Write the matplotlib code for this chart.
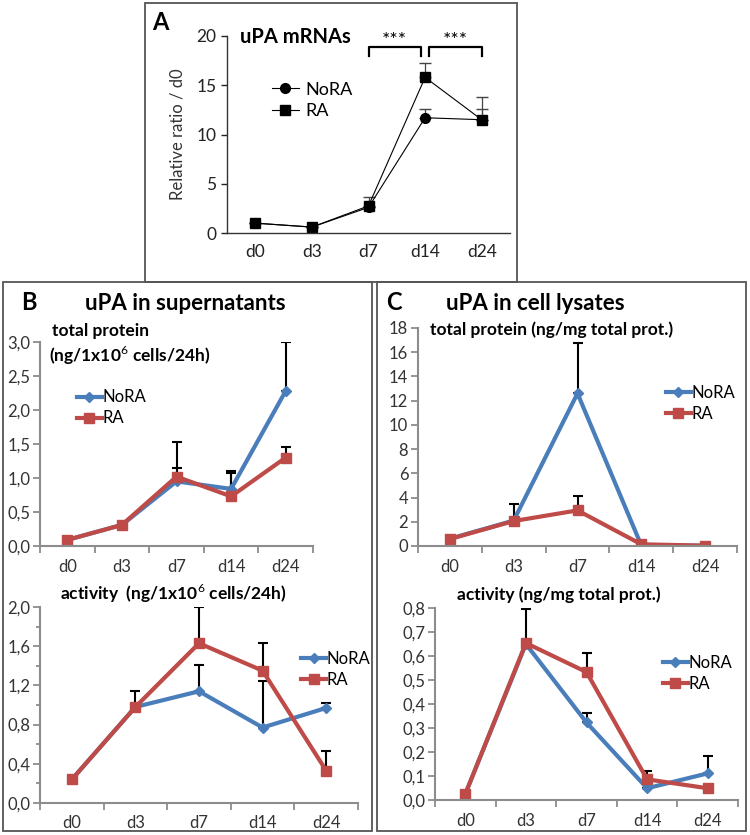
import numpy as np
import matplotlib
matplotlib.use("Agg")
from matplotlib import pyplot as plt
from matplotlib.patches import Rectangle
from matplotlib.ticker import MultipleLocator, FixedLocator, NullFormatter

plt.rcParams['font.family'] = ['Lato', 'DejaVu Sans']
plt.rcParams['mathtext.fontset'] = 'custom'
plt.rcParams['mathtext.rm'] = 'Lato'
plt.rcParams['mathtext.bf'] = 'Lato:bold'

days = ['d0', 'd3', 'd7', 'd14', 'd24']

# A: uPA mRNA, relative ratio / d0
mrna_nora = [1.0, 0.6, 2.6, 11.7, 11.5]
mrna_ra = [1.0, 0.6, 2.75, 15.8, 11.5]
mrna_nora_err = [0, 0, 0, 0.9, 1.1]
mrna_ra_err = [0, 0, 0.95, 1.5, 2.3]

# B: supernatants
sup_total_nora = [0.09, 0.31, 0.95, 0.84, 2.28]
sup_total_ra = [0.09, 0.31, 1.02, 0.73, 1.30]
sup_total_nora_err = [0, 0, 0.20, 0.23, 0.72]
sup_total_ra_err = [0, 0, 0.51, 0.37, 0.15]

sup_act_nora = [0.24, 0.98, 1.14, 0.77, 0.97]
sup_act_ra = [0.24, 0.98, 1.63, 1.35, 0.33]
sup_act_nora_err = [0, 0, 0.27, 0.47, 0.05]
sup_act_ra_err = [0, 0.16, 0.37, 0.28, 0.20]

# C: cell lysates
lys_total_nora = [0.6, 2.1, 12.6, 0.05, 0.02]
lys_total_ra = [0.58, 2.06, 2.94, 0.14, 0.03]
lys_total_nora_err = [0, 0, 4.2, 0, 0]
lys_total_ra_err = [0, 1.44, 1.2, 0, 0]

lys_act_nora = [0.025, 0.65, 0.323, 0.049, 0.111]
lys_act_ra = [0.025, 0.654, 0.533, 0.086, 0.049]
lys_act_nora_err = [0, 0, 0.04, 0, 0.073]
lys_act_ra_err = [0, 0.14, 0.08, 0.036, 0]

W, H = 750, 835
BLUE = '#4a7ebb'
RED = '#be4b48'
AXC = '#8c8c8c'

fig = plt.figure(figsize=(W / 100, H / 100), dpi=100)


def rect(l, t, r, b):
    return [l / W, 1 - b / H, (r - l) / W, (b - t) / H]


def ftext(x, y, s, **kw):
    fig.text(x / W, 1 - y / H, s, **kw)


# panel frames
for l, t, r, b in [(145, 3, 517, 282), (3, 282, 372, 831), (377, 282, 746, 831)]:
    fig.add_artist(Rectangle((l / W, 1 - b / H), (r - l) / W, (b - t) / H,
                             transform=fig.transFigure, fill=False,
                             ec='#555555', lw=1.3))

# ---- panel A ----
x = np.arange(len(days))
ax = fig.add_axes(rect(227, 36, 510, 233))
ax.errorbar(x, mrna_nora, yerr=[np.zeros(5), mrna_nora_err], fmt='none',
            ecolor='#444444', elinewidth=0.9, capsize=4)
ax.errorbar(x, mrna_ra, yerr=[np.zeros(5), mrna_ra_err], fmt='none',
            ecolor='#444444', elinewidth=0.9, capsize=4)
ax.plot(x, mrna_nora, '-o', color='black', lw=0.8, ms=7, label='NoRA')
ax.plot(x, mrna_ra, '-s', color='black', lw=0.8, ms=7.5, label='RA')
ax.set_xlim(-0.5, 4.5)
ax.set_ylim(0, 20)
ax.set_yticks([0, 5, 10, 15, 20])
ax.set_xticks(x)
ax.set_xticklabels(days)
ax.tick_params(axis='x', length=0, pad=8, labelsize=12.5, colors='#222222')
ax.tick_params(axis='y', length=4, width=1, labelsize=12.5, colors='#222222')
for s in ['top', 'right']:
    ax.spines[s].set_visible(False)
for s in ['left', 'bottom']:
    ax.spines[s].set_color('#333333')
    ax.spines[s].set_linewidth(1)
ax.set_ylabel('Relative ratio / d0', fontsize=12, color='#333333', labelpad=8)
ax.legend(loc='upper left', bbox_to_anchor=(0.1, 0.85), frameon=False,
          fontsize=13, handlelength=1.5, handletextpad=0.4, labelspacing=0.3)
# significance brackets
for x0, x1 in [(2.0, 2.93), (3.07, 4.0)]:
    ax.plot([x0, x0, x1, x1], [18.0, 18.9, 18.9, 18.0], color='black', lw=1.6,
            clip_on=False)
    ax.text((x0 + x1) / 2, 19.5, '***', ha='center', va='center', fontsize=14)
ftext(160, 23, 'A', fontsize=17, fontweight='bold', ha='center', va='center')
ftext(240, 37, 'uPA mRNAs', fontsize=14.5, fontweight='bold', ha='left', va='center')


# ---- excel style panels ----
def excel_panel(box, nora, ra, nora_err, ra_err, ylim, step, minor=None,
                fmt='{:.1f}', leg=None):
    ax = fig.add_axes(rect(*box))
    ax.errorbar(x, nora, yerr=[np.zeros(5), nora_err], fmt='none',
                ecolor='black', elinewidth=1.5, capsize=3.5, capthick=1.5)
    ax.errorbar(x, ra, yerr=[np.zeros(5), ra_err], fmt='none',
                ecolor='black', elinewidth=1.5, capsize=3.5, capthick=1.5)
    ax.plot(x, nora, '-D', color=BLUE, lw=3, ms=5.5, label='NoRA')
    ax.plot(x, ra, '-s', color=RED, lw=3, ms=7.5, label='RA')
    ax.set_xlim(-0.5, 4.5)
    ax.set_ylim(*ylim)
    ax.xaxis.set_major_locator(FixedLocator(np.arange(-0.5, 5, 1)))
    ax.xaxis.set_major_formatter(NullFormatter())
    ax.xaxis.set_minor_locator(FixedLocator(x))
    ax.set_xticklabels(days, minor=True)
    ax.tick_params(axis='x', which='major', length=5, width=1.3, color=AXC,
                   direction='out')
    ax.tick_params(axis='x', which='minor', length=0, pad=9, labelsize=12,
                   labelcolor='#333333')
    yt = np.arange(ylim[0], ylim[1] + step / 2, step)
    ax.set_yticks(yt)
    ax.set_yticklabels([fmt.format(v).replace('.', ',') for v in yt])
    if minor:
        ax.yaxis.set_minor_locator(MultipleLocator(minor))
        ax.tick_params(axis='y', which='minor', length=3, width=1.3, color=AXC)
    ax.tick_params(axis='y', which='major', length=5, width=1.3, color=AXC,
                   labelsize=12, labelcolor='#333333', pad=2)
    for s in ['top', 'right']:
        ax.spines[s].set_visible(False)
    for s in ['left', 'bottom']:
        ax.spines[s].set_color(AXC)
        ax.spines[s].set_linewidth(1.5)
    ax.legend(loc='upper left', bbox_to_anchor=leg, frameon=False,
              fontsize=12, handlelength=1.5, handletextpad=0.05,
              labelspacing=0.3, borderaxespad=0)
    return ax


excel_panel((40, 342, 313, 546), sup_total_nora, sup_total_ra,
            sup_total_nora_err, sup_total_ra_err, (0, 3.0), 0.5,
            leg=(0.11, 0.80))
excel_panel((40, 607, 358, 803), sup_act_nora, sup_act_ra,
            sup_act_nora_err, sup_act_ra_err, (0, 2.0), 0.4, minor=0.2,
            leg=(0.80, 0.81))
excel_panel((418, 328, 737, 546), lys_total_nora, lys_total_ra,
            lys_total_nora_err, lys_total_ra_err, (0, 18), 2, fmt='{:.0f}',
            leg=(0.755, 0.77))
excel_panel((435, 608, 738, 800), lys_act_nora, lys_act_ra,
            lys_act_nora_err, lys_act_ra_err, (0, 0.8), 0.1,
            leg=(0.73, 0.79))

ftext(29, 303, 'B', fontsize=17, fontweight='bold', ha='center', va='center')
ftext(185, 303, 'uPA in supernatants', fontsize=16, fontweight='bold',
      ha='center', va='center')
ftext(394, 303, 'C', fontsize=17, fontweight='bold', ha='center', va='center')
ftext(535, 303, 'uPA in cell lysates', fontsize=16, fontweight='bold',
      ha='center', va='center')
ftext(52, 331, 'total protein', fontsize=12.5, fontweight='bold', va='center')
ftext(49, 355, r'(ng/1x10$^6$ cells/24h)', fontsize=12.5, fontweight='bold',
      va='center')
ftext(60, 593, r'activity  (ng/1x10$^6$ cells/24h)', fontsize=12.5,
      fontweight='bold', va='center')
ftext(430, 330, 'total protein (ng/mg total prot.)', fontsize=12.5,
      fontweight='bold', va='center')
ftext(457, 595, 'activity (ng/mg total prot.)', fontsize=12.5,
      fontweight='bold', va='center')

fig.savefig('out.png', dpi=100)
